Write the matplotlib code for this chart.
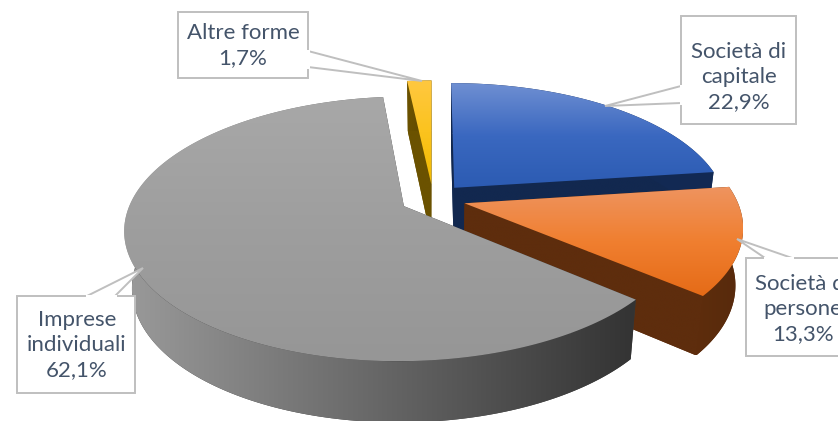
import numpy as np
import matplotlib
matplotlib.use("Agg")
import matplotlib.pyplot as plt
from matplotlib.colors import LinearSegmentedColormap
from matplotlib.patches import Polygon

plt.rcParams['font.family'] = ['Lato', 'DejaVu Sans']

# data, clockwise from 12 o'clock
labels = ["Società di\ncapitale\n22,9%", "Società di\npersone\n13,3%", "Imprese\nindividuali\n62,1%", "Altre forme\n1,7%"]
values = [22.9, 13.3, 62.1, 1.7]

top_colors = [["#6F8FD2", "#3A68C0", "#2C5BB2"], ["#EE9460", "#F07F30", "#E56B17"],
              ["#A8A8A8", "#9E9E9E", "#969696"], ["#FFC840", "#FBC31E", "#F2BA00"]]
wall_colors = [["#12284F", "#132A54"], ["#5E2D0D", "#572A0C"],
               ["#9A9A9A", "#333333"], ["#6B5200", "#5C4700"]]
side_colors = ["#12284F", "#5E2D0D", "#3E3E3E", "#6B5200"]
draw_order = [3, 0, 1, 2]

# perspective of the pie
cx, cy = 433, 199
a, b, k = 272, 126, 0.17
explode = 0.12
depth_mid, depth_tilt, shrink = 56, 5, 0.975


def project(u, v):
    w = 1 + k * v
    return cx + a * u / w, cy - b * v / w


def project_low(u, v):
    x, y = project(u, v)
    return cx + shrink * (x - cx), y + depth_mid - depth_tilt * v


def fill_gradient(ax, points, colors, horizontal=False):
    points = np.array(points)
    cmap = LinearSegmentedColormap.from_list("g", colors)
    ramp = np.linspace(0, 1, 256)
    ramp = ramp.reshape(1, -1) if horizontal else ramp.reshape(-1, 1)
    x0, x1 = points[:, 0].min(), points[:, 0].max()
    y0, y1 = points[:, 1].min(), points[:, 1].max()
    img = ax.imshow(ramp, cmap=cmap, extent=(x0, x1, y1, y0), aspect='auto', zorder=ax.zcount, interpolation='bilinear')
    shape = Polygon(points, closed=True, fc='none', ec='none', transform=ax.transData)
    ax.add_patch(shape)
    img.set_clip_path(shape)
    ax.zcount += 1


fig = plt.figure(figsize=(8.38, 4.21), dpi=100)
ax = fig.add_axes([0, 0, 1, 1])
ax.zcount = 1

edges = np.radians(np.concatenate([[0], np.cumsum(values)]) * 360 / sum(values))

for i in draw_order:
    t0, t1 = edges[i], edges[i + 1]
    mid = (t0 + t1) / 2
    u0, v0 = explode * np.sin(mid), explode * np.cos(mid)
    t = np.linspace(t0, t1, 200)
    u = u0 + np.sin(t)
    v = v0 + np.cos(t)

    top = [project(u0, v0)] + [project(p, q) for p, q in zip(u, v)]
    low = [project_low(u0, v0)] + [project_low(p, q) for p, q in zip(u, v)]

    # radial walls first, then the round wall over them
    for n in [1, len(top) - 1]:
        fill_gradient(ax, [top[0], top[n], low[n], low[0]], [side_colors[i], side_colors[i]])
    round_wall = top[1:] + low[1:][::-1]
    fill_gradient(ax, low, [side_colors[i], side_colors[i]])
    fill_gradient(ax, round_wall, wall_colors[i], horizontal=True)
    fill_gradient(ax, top, top_colors[i])

# callout boxes: box corners, then the pointer
boxes = [
    (681, 16, 796, 124, [(681, 103), (605, 106), (681, 86)]),
    (746, 258, 860, 356, [(792, 258), (737, 239), (765, 258)]),
    (17, 296, 135, 393, [(87, 296), (143, 268), (115, 296)]),
    (178, 12, 308, 78, [(308, 67), (422, 81), (308, 51)]),
]
text_pos = [(739, 77), (803, 309), (77, 345), (243, 46)]

for i, (x0, y0, x1, y1, tail) in enumerate(boxes):
    ax.add_patch(Polygon([(x0, y0), (x1, y0), (x1, y1), (x0, y1)], closed=True, fc='white', ec='#BFBFBF', lw=1.4, zorder=50))
    ax.add_patch(Polygon(tail, closed=True, fc='white', ec='#BFBFBF', lw=1.4, zorder=51))
    # hide the box edge under the pointer root
    ax.plot([tail[0][0], tail[2][0]], [tail[0][1], tail[2][1]], color='white', lw=2.2, zorder=52)
    ax.text(text_pos[i][0], text_pos[i][1], labels[i], ha='center', va='center', fontsize=16, color='#44546A', linespacing=1.32, zorder=53)

ax.set_xlim(0, 838)
ax.set_ylim(421, 0)
ax.axis('off')
fig.savefig("out.png", dpi=100)
